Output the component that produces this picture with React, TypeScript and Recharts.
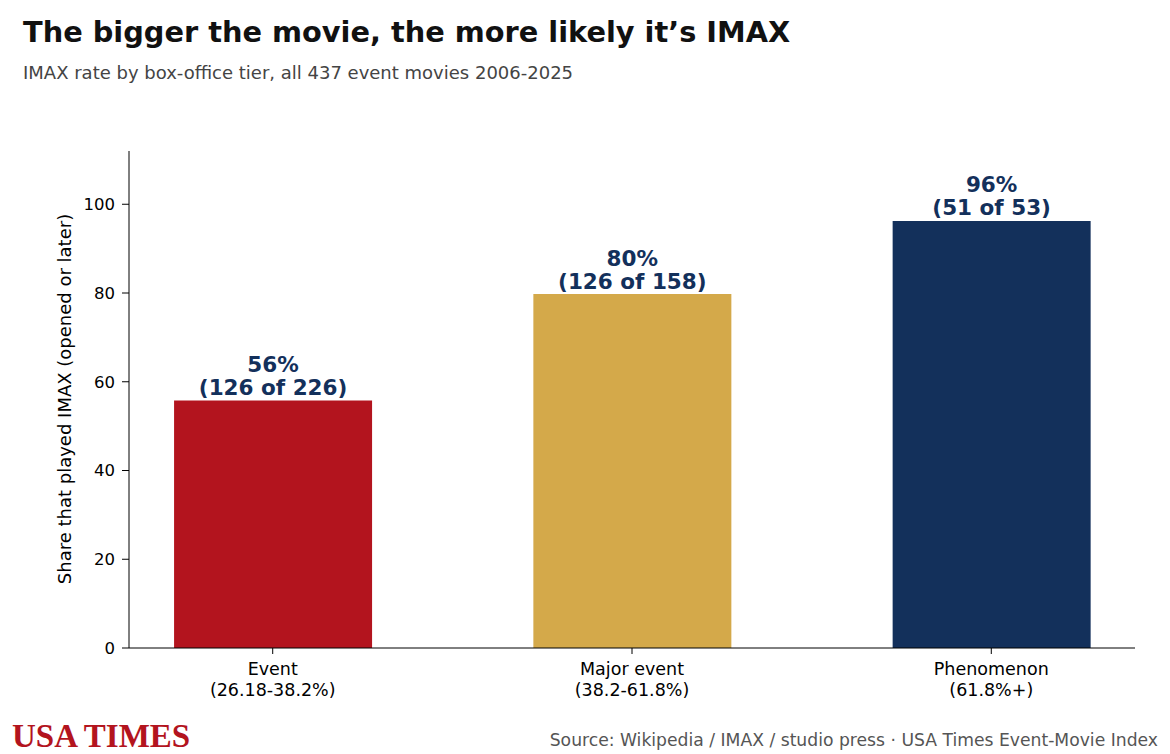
import { BarChart, Bar, XAxis, YAxis, Cell, LabelList } from 'recharts'

const TIERS = ['Event', 'Major event', 'Phenomenon']
const RANGES = ['(26.18-38.2%)', '(38.2-61.8%)', '(61.8%+)']
const IMAX_COUNT = [126, 126, 51]
const TOTAL_COUNT = [226, 158, 53]
const COLORS = ['#b3141e', '#d4a94a', '#13305b']
const Y_TICKS = [0, 20, 40, 60, 80, 100]

const FONT = '"DejaVu Sans", sans-serif'
const NAVY = '#13305b'

const data = TIERS.map((tier, i) => ({
  idx: i,
  tier,
  range: RANGES[i],
  imax: IMAX_COUNT[i],
  total: TOTAL_COUNT[i],
  share: (IMAX_COUNT[i] / TOTAL_COUNT[i]) * 100,
}))

function TierTick({ x, y, payload }: any) {
  const i = payload.value
  return (
    <text x={x} y={y} textAnchor="middle" fontFamily={FONT} fontSize={17.5} fill="#000">
      <tspan x={x} dy={19}>{TIERS[i]}</tspan>
      <tspan x={x} dy={20.5}>{RANGES[i]}</tspan>
    </text>
  )
}

function ShareLabel({ x, y, width, index }: any) {
  const d = data[index]
  const cx = x + width / 2
  return (
    <text x={cx} y={y} textAnchor="middle" fontFamily={FONT} fontSize={21.5} fontWeight="bold" fill={NAVY}>
      <tspan x={cx} dy={-28.5}>{Math.round(d.share)}%</tspan>
      <tspan x={cx} dy={23}>({d.imax} of {d.total})</tspan>
    </text>
  )
}

function YTitle() {
  return (
    <text transform="translate(71, 399) rotate(-90)" textAnchor="middle" fontFamily={FONT} fontSize={18} fill="#000">
      Share that played IMAX (opened or later)
    </text>
  )
}

export default function App() {
  return (
    <div style={{ position: 'absolute', left: 0, top: 0, width: 1170, height: 754, background: '#fff', fontFamily: FONT }}>
      <div style={{ position: 'absolute', left: 23, top: 18, fontSize: 28.8, lineHeight: 1, fontWeight: 'bold', color: '#111', whiteSpace: 'nowrap' }}>
        The bigger the movie, the more likely it’s IMAX
      </div>
      <div style={{ position: 'absolute', left: 23, top: 64, fontSize: 18, lineHeight: 1, color: '#444', whiteSpace: 'nowrap' }}>
        IMAX rate by box-office tier, all 437 event movies 2006-2025
      </div>

      <BarChart
        width={1170}
        height={754}
        data={data}
        margin={{ top: 151, right: 35, bottom: 46, left: 69 }}
      >
        <XAxis
          dataKey="idx"
          type="number"
          domain={[-0.4, 2.4]}
          ticks={[0, 1, 2]}
          tick={<TierTick />}
          tickLine={{ stroke: '#000' }}
          tickSize={6}
          axisLine={{ stroke: '#000' }}
          height={60}
          interval={0}
        />
        <YAxis
          domain={[0, 112]}
          ticks={Y_TICKS}
          width={60}
          tick={{ fill: '#000', fontSize: 16.5, fontFamily: FONT }}
          tickLine={{ stroke: '#000' }}
          tickSize={7}
          tickMargin={7}
          axisLine={{ stroke: '#000' }}
          label={{ content: <YTitle /> }}
        />
        <Bar dataKey="share" barSize={198} isAnimationActive={false}>
          {data.map((d, i) => (
            <Cell key={d.tier} fill={COLORS[i]} />
          ))}
          <LabelList dataKey="share" content={<ShareLabel />} />
        </Bar>
      </BarChart>

      <div style={{ position: 'absolute', left: 12, top: 720, fontSize: 33, lineHeight: 1, fontWeight: 'bold', color: '#b3141e', fontFamily: '"Liberation Serif", serif', whiteSpace: 'nowrap' }}>
        USA TIMES
      </div>
      <div style={{ position: 'absolute', right: 12, top: 732, fontSize: 17.2, lineHeight: 1, color: '#555', whiteSpace: 'nowrap' }}>
        Source: Wikipedia / IMAX / studio press · USA Times Event-Movie Index
      </div>
    </div>
  )
}
